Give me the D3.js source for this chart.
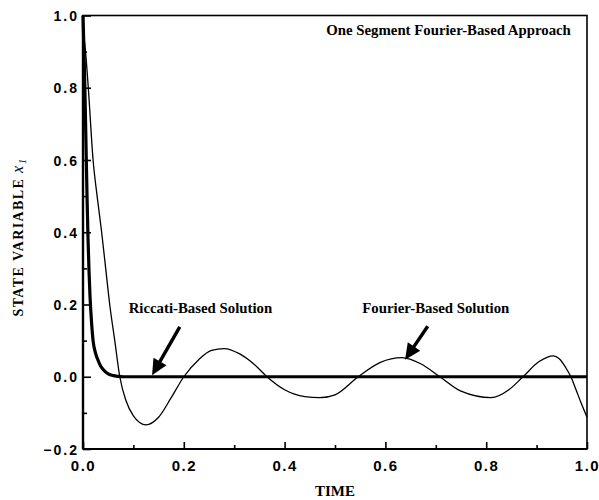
<!DOCTYPE html>
<html><head><meta charset="utf-8">
<script src="https://cdn.jsdelivr.net/npm/d3@7"></script>
<style>body{margin:0;background:#fff}svg{display:block}</style>
</head><body>
<svg id="c" width="599" height="500"></svg>
<script>
// ---- data ----
const riccatiT = [0, 0.002, 0.004, 0.006, 0.008, 0.010, 0.012, 0.014, 0.017, 0.020, 0.025, 0.030, 0.035, 0.040, 0.050, 0.060, 0.070, 0.080, 0.2, 0.4, 0.6, 0.8, 1.0];
const riccatiX = [1.0, 0.90, 0.78, 0.64, 0.50, 0.38, 0.29, 0.22, 0.15, 0.10, 0.065, 0.045, 0.030, 0.020, 0.008, 0.003, 0.001, 0, 0, 0, 0, 0, 0];
const fourierT = [0, 0.005, 0.0105, 0.020, 0.028, 0.037, 0.045, 0.053, 0.063, 0.073, 0.085, 0.100, 0.125, 0.150, 0.175, 0.200, 0.230, 0.255, 0.280, 0.310, 0.340, 0.365, 0.400, 0.440, 0.470, 0.500, 0.546, 0.590, 0.633, 0.670, 0.708, 0.750, 0.810, 0.845, 0.873, 0.905, 0.933, 0.945, 0.958, 0.968, 0.978, 0.989, 1.0];
const fourierX = [0.96, 0.90, 0.80, 0.60, 0.50, 0.40, 0.30, 0.20, 0.10, 0.0, -0.065, -0.108, -0.133, -0.112, -0.058, 0.0, 0.048, 0.073, 0.078, 0.064, 0.034, 0.0, -0.036, -0.055, -0.058, -0.050, 0.0, 0.040, 0.053, 0.036, 0.0, -0.040, -0.058, -0.036, 0.0, 0.042, 0.058, 0.050, 0.025, 0.0, -0.035, -0.075, -0.112];
const xTicks = [0, 0.2, 0.4, 0.6, 0.8, 1.0];
const xMinorTicks = [0.1, 0.3, 0.5, 0.7, 0.9];
const yTicks = [-0.2, 0, 0.2, 0.4, 0.6, 0.8, 1.0];
const yMinorTicks = [-0.1, 0.1, 0.3, 0.5, 0.7, 0.9];
const titleText = "One Segment Fourier-Based Approach";
const xTitle = "TIME";
const yTitle = "STATE VARIABLE";
const labelText = ["Riccati-Based Solution", "Fourier-Based Solution"];
const labelAt = [[0.233, 0.177], [0.700, 0.177]];
const arrowFrom = [[0.192, 0.138], [0.684, 0.140]];
const arrowTo = [[0.137, 0.004], [0.639, 0.047]];

// ---- layout ----
const W = 599, H = 500;
const m = {l: 83, r: 12, t: 15.5, b: 51};
const svg = d3.select("#c");
const x = d3.scaleLinear().domain([0, 1]).range([m.l, W - m.r]);
const y = d3.scaleLinear().domain([-0.2, 1.0]).range([H - m.b, m.t]);

// frame
svg.append("rect").attr("x", x(0)).attr("y", y(1)).attr("width", x(1) - x(0)).attr("height", y(-0.2) - y(1))
  .attr("fill", "none").attr("stroke", "#000").attr("stroke-width", 1.6);
svg.append("line").attr("x1", x(0)).attr("x2", x(0)).attr("y1", y(1)).attr("y2", y(-0.2)).attr("stroke", "#000").attr("stroke-width", 2.4);
svg.append("line").attr("x1", x(0)).attr("x2", x(1)).attr("y1", y(-0.2)).attr("y2", y(-0.2)).attr("stroke", "#000").attr("stroke-width", 2.2);

// axes (inward ticks)
const xAx = svg.append("g").attr("transform", `translate(0,${y(-0.2)})`)
  .call(d3.axisBottom(x).tickValues(xTicks).tickSize(-7).tickPadding(11).tickFormat(d3.format(".1f")));
const xMin = svg.append("g").attr("transform", `translate(0,${y(-0.2)})`)
  .call(d3.axisBottom(x).tickValues(xMinorTicks).tickSize(-4).tickFormat(""));
const yAx = svg.append("g").attr("transform", `translate(${x(0)},0)`)
  .call(d3.axisLeft(y).tickValues(yTicks).tickSize(-8).tickPadding(4).tickFormat(d3.format(".1f")));
const yMin = svg.append("g").attr("transform", `translate(${x(0)},0)`)
  .call(d3.axisLeft(y).tickValues(yMinorTicks).tickSize(-4).tickFormat(""));
[xAx, xMin, yAx, yMin].forEach(g => {
  g.select(".domain").remove();
  g.selectAll(".tick line").attr("stroke", "#000").attr("stroke-width", 1.6);
});
xAx.selectAll(".tick text").attr("font-family", "Liberation Sans, Arial, sans-serif").attr("font-weight", "bold")
  .attr("font-size", 15).attr("letter-spacing", "1.5px").attr("fill", "#000");
yAx.selectAll(".tick text").attr("font-family", "Liberation Sans, Arial, sans-serif").attr("font-weight", "bold")
  .attr("font-size", 14).attr("letter-spacing", "2px").attr("fill", "#000").attr("dy", "0.36em");

// curves
const fourier = fourierT.map((t, i) => [t, fourierX[i]]);
const riccati = riccatiT.map((t, i) => [t, riccatiX[i]]);
const line = d3.line().x(d => x(d[0])).y(d => y(d[1])).curve(d3.curveMonotoneX);
svg.append("path").attr("d", line(fourier)).attr("fill", "none").attr("stroke", "#000").attr("stroke-width", 1.3);
svg.append("path").attr("d", line(riccati)).attr("fill", "none").attr("stroke", "#000").attr("stroke-width", 3.2);

// annotations
const serif = "Liberation Serif, Times New Roman, serif";
svg.append("text").attr("x", x(0.968)).attr("y", 35).attr("text-anchor", "end")
  .attr("font-family", serif).attr("font-weight", "bold").attr("font-size", 14.8).text(titleText);
labelText.forEach((t, i) => {
  svg.append("text").attr("x", x(labelAt[i][0])).attr("y", y(labelAt[i][1])).attr("text-anchor", "middle")
    .attr("font-family", serif).attr("font-weight", "bold").attr("font-size", 14.8).text(t);
  const x1 = x(arrowFrom[i][0]), y1 = y(arrowFrom[i][1]), x2 = x(arrowTo[i][0]), y2 = y(arrowTo[i][1]);
  const ang = Math.atan2(y2 - y1, x2 - x1), hl = 16, hw = 7.5;
  const bx = x2 - hl * Math.cos(ang), by = y2 - hl * Math.sin(ang);
  svg.append("line").attr("x1", x1).attr("y1", y1).attr("x2", bx + 2 * Math.cos(ang)).attr("y2", by + 2 * Math.sin(ang))
    .attr("stroke", "#000").attr("stroke-width", 3.4);
  const px = -Math.sin(ang), py = Math.cos(ang);
  svg.append("path").attr("d", `M${x2},${y2}L${bx + px * hw},${by + py * hw}L${bx - px * hw},${by - py * hw}Z`).attr("fill", "#000");
});

// axis titles
svg.append("text").attr("x", (x(0) + x(1)) / 2).attr("y", 496).attr("text-anchor", "middle")
  .attr("font-family", serif).attr("font-weight", "bold").attr("font-size", 15).text(xTitle);
const yt = svg.append("text").attr("transform", `translate(23,237) rotate(-90)`).attr("text-anchor", "middle")
  .attr("font-family", serif).attr("font-weight", "bold").attr("font-size", 14).attr("letter-spacing", "1.4px");
yt.append("tspan").text(yTitle + " ");
yt.append("tspan").attr("font-style", "italic").attr("font-weight", "normal").attr("font-size", 16).text("x");
yt.append("tspan").attr("font-style", "italic").attr("font-weight", "normal").attr("font-size", 11).attr("dy", 3).text("1");
</script>
</body></html>
